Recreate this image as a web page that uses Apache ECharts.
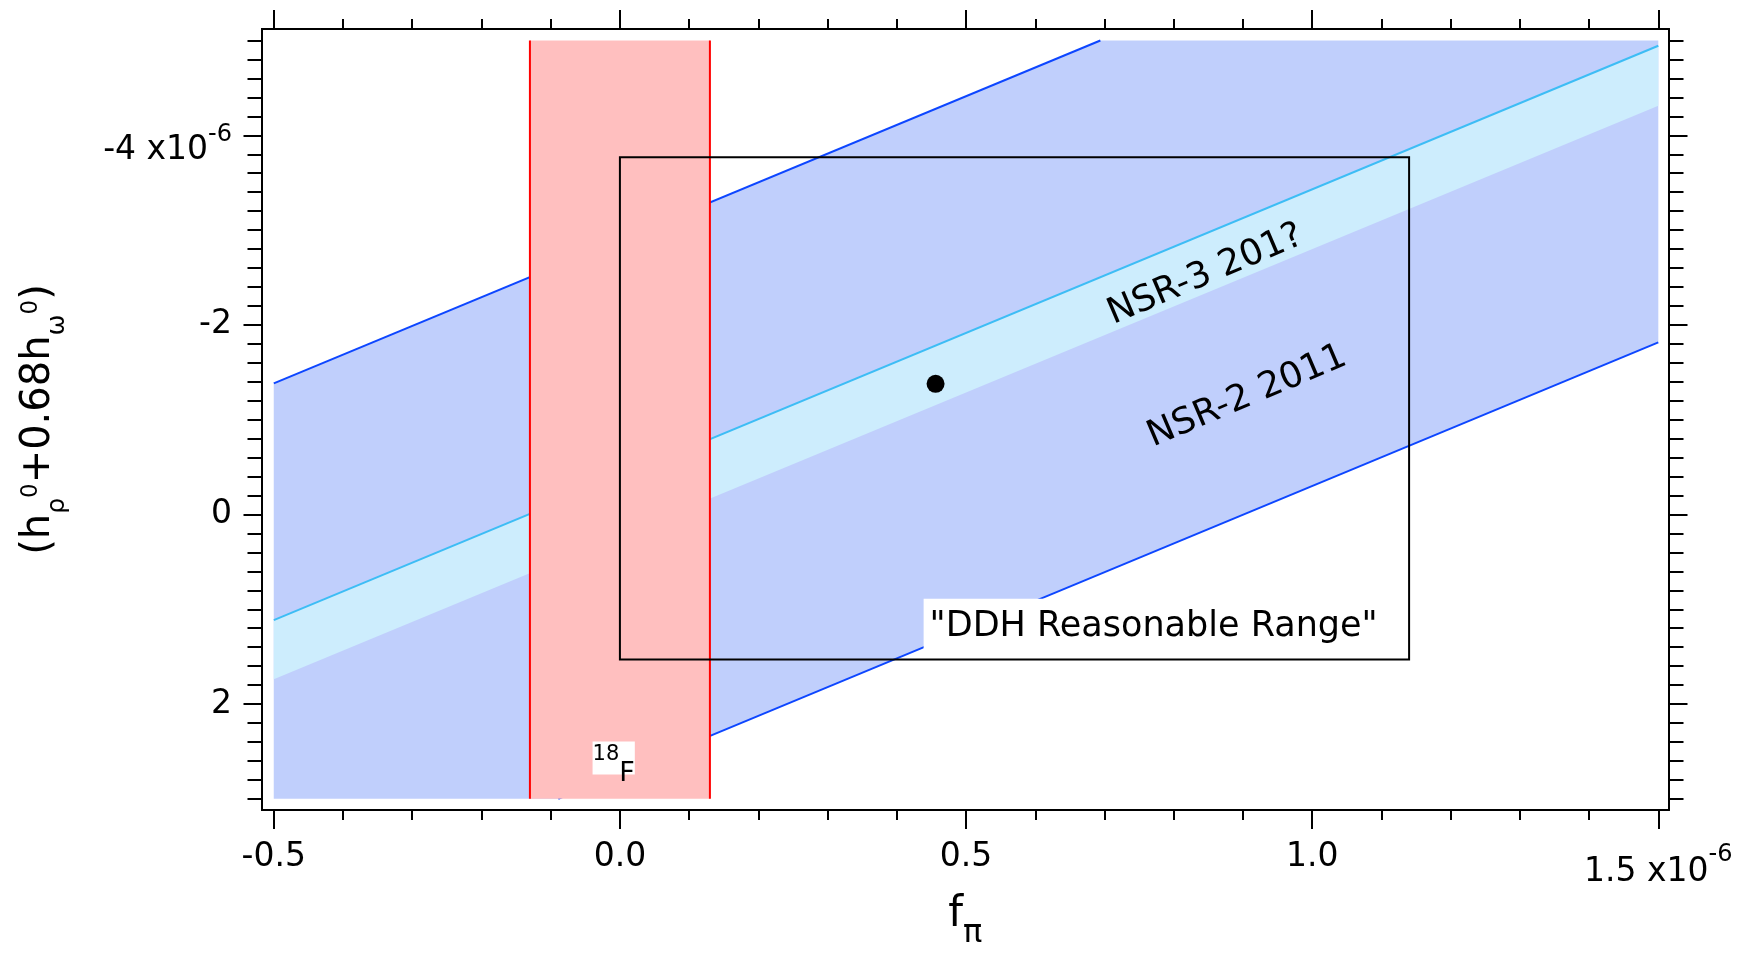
<!DOCTYPE html>
<html>
<head>
<meta charset="utf-8">
<script src="https://cdn.jsdelivr.net/npm/echarts@6/dist/echarts.min.js"></script>
<style>
html,body{margin:0;padding:0;background:#ffffff;}
#chart{width:1746px;height:955px;}
</style>
</head>
<body>
<div id="chart"></div>
<script>
// ---------------- data ----------------
const xRange = [-0.5, 1.5];
const yRange = [-5, 3];
const xMajorTicks = [-0.5, 0.0, 0.5, 1.0, 1.5];
const xTickLabels = ['-0.5', '0.0', '0.5', '1.0', '1.5 x10^-6'];
const yMajorTicks = [-4, -2, 0, 2];
const yTickLabels = ['-4 x10^-6', '-2', '0', '2'];
const xMinorStep = 0.1;
const yMinorStep = 0.2;

// NSR-2 2011 band edges
const nsr2Upper = [[-0.5, -1.383], [0.694, -5.0]];
const nsr2Lower = [[-0.089, 3.0], [1.5, -1.816]];
// NSR-3 201? band edges
const nsr3Upper = [[-0.5, 1.114], [1.5, -4.945]];
const nsr3Lower = [[-0.5, 1.739], [1.5, -4.313]];
// 18F band (f_pi range)
const f18Range = [-0.13, 0.13];
// DDH reasonable range box
const ddhX = [0.0, 1.14];
const ddhY = [-3.77, 1.53];
// central point
const centralPoint = [[0.456, -1.379]];

// ---------------- layout / styles ----------------
const FONT = 'DejaVu Sans';
const W = 1746, H = 955;
const grid = {left: 259.5, right: 77.5, top: 29, bottom: 134};
const gapPx = {left: 11.8, right: 10.2, top: 11.7, bottom: 11.4};
const gridW = W - grid.left - grid.right;
const gridH = H - grid.top - grid.bottom;
const xPerPx = (xRange[1] - xRange[0]) / (gridW - gapPx.left - gapPx.right);
const yPerPx = (yRange[1] - yRange[0]) / (gridH - gapPx.top - gapPx.bottom);
const xMin = xRange[0] - gapPx.left * xPerPx;
const xMax = xRange[1] + gapPx.right * xPerPx;
const yMin = yRange[0] - gapPx.top * yPerPx;
const yMax = yRange[1] + gapPx.bottom * yPerPx;

function stepTicks(range, step) {
  const out = [];
  const n = Math.round((range[1] - range[0]) / step);
  for (let i = 0; i <= n; i++) out.push(+(range[0] + i * step).toFixed(6));
  return out;
}
const xMinorTicks = stepTicks(xRange, xMinorStep);
const yMinorTicks = stepTicks(yRange, yMinorStep);

function richLabel(str) {
  const parts = str.split('^');
  if (parts.length === 1) return '{n|' + str + '}';
  return '{m|' + parts[0] + '}{s|' + parts[1] + '}';
}
function findLabel(ticks, labels, v) {
  for (let i = 0; i < ticks.length; i++) if (Math.abs(ticks[i] - v) < 1e-6) return labels[i];
  return '';
}

const lineStyleFrame = {color: '#000', width: 2};
const TXT = {fontFamily: FONT, color: '#000'};

function makeX(position, ticks, len, withLabels, extra) {
  return Object.assign({
    type: 'value', position: position, offset: 0, min: xMin, max: xMax,
    axisLine: {show: true, onZero: false, lineStyle: lineStyleFrame},
    splitLine: {show: false},
    axisTick: {show: true, customValues: ticks, length: len, lineStyle: {color: '#000', width: 2}},
    axisLabel: withLabels ? {
      show: true, customValues: xMajorTicks, margin: 31, color: '#000', fontFamily: FONT,
      formatter: v => richLabel(findLabel(xMajorTicks, xTickLabels, v)),
      rich: {
        n: Object.assign({fontSize: 33, lineHeight: 40, verticalAlign: 'top'}, TXT),
        m: Object.assign({fontSize: 33, lineHeight: 40, padding: [15, 0, 0, 0], verticalAlign: 'top'}, TXT),
        s: Object.assign({fontSize: 24, lineHeight: 24, padding: [2, 0, 0, 0], verticalAlign: 'top'}, TXT)
      }
    } : {show: false}
  }, extra || {});
}
function makeY(position, ticks, len, withLabels, extra) {
  return Object.assign({
    type: 'value', position: position, offset: 0, min: yMin, max: yMax, inverse: true,
    axisLine: {show: true, onZero: false, lineStyle: lineStyleFrame},
    splitLine: {show: false},
    axisTick: {show: true, customValues: ticks, length: len, lineStyle: {color: '#000', width: 2}},
    axisLabel: withLabels ? {
      show: true, customValues: yMajorTicks, margin: 30, color: '#000', fontFamily: FONT,
      formatter: v => richLabel(findLabel(yMajorTicks, yTickLabels, v)),
      rich: {
        n: Object.assign({fontSize: 33, lineHeight: 40}, TXT),
        m: Object.assign({fontSize: 33, lineHeight: 40, padding: [19, 0, 0, 0], verticalAlign: 'top'}, TXT),
        s: Object.assign({fontSize: 24, lineHeight: 24, padding: [7, 0, 0, 0], verticalAlign: 'top'}, TXT)
      }
    } : {show: false}
  }, extra || {});
}

function polygonSeries(name, pts, color, z) {
  return {
    type: 'custom', name: name, silent: true, xAxisIndex: 0, yAxisIndex: 0, z: z,
    data: [pts[0]],
    renderItem: function (params, api) {
      return {type: 'polygon', shape: {points: pts.map(p => api.coord(p))}, style: {fill: color}};
    }
  };
}
function lineSeries(name, pts, color, width, z) {
  return {
    type: 'line', name: name, data: pts, showSymbol: false, symbol: 'none', silent: true,
    xAxisIndex: 0, yAxisIndex: 0, z: z,
    lineStyle: {color: color, width: width}
  };
}
function textSeries(name, pos, text, labelOpts) {
  return {
    type: 'scatter', name: name, data: [pos], symbolSize: 1, silent: true, z: 20,
    itemStyle: {color: 'rgba(0,0,0,0)', opacity: 1},
    label: Object.assign({show: true, position: 'inside', formatter: text, opacity: 1}, TXT, labelOpts)
  };
}

// polygons built from the edge arrays and axis ranges
const nsr2Band = [nsr2Upper[0], nsr2Upper[1], [xRange[1], yRange[0]], nsr2Lower[1], nsr2Lower[0], [xRange[0], yRange[1]]];
const nsr3Band = [nsr3Upper[0], nsr3Upper[1], nsr3Lower[1], nsr3Lower[0]];
const f18Band = [[f18Range[0], yRange[0]], [f18Range[1], yRange[0]], [f18Range[1], yRange[1]], [f18Range[0], yRange[1]]];

const option = {
  backgroundColor: '#ffffff',
  animation: false,
  grid: {left: grid.left, right: grid.right, top: grid.top, bottom: grid.bottom, containLabel: false},
  xAxis: [
    makeX('bottom', xMajorTicks, 19, true, {
      name: '{t|f}{sub|π}', nameLocation: 'middle', nameGap: 79.5,
      nameTextStyle: {rich: {
        t: Object.assign({fontSize: 42, lineHeight: 50, verticalAlign: 'top'}, TXT),
        sub: Object.assign({fontSize: 32, lineHeight: 32, padding: [24, 0, 0, 0], verticalAlign: 'top'}, TXT)
      }}
    }),
    makeX('bottom', xMinorTicks, 10, false),
    makeX('top', xMajorTicks, 19, false),
    makeX('top', xMinorTicks, 10, false)
  ],
  yAxis: [
    makeY('left', yMajorTicks, 18.5, true, {
      name: '{t|(h}{sub|ρ}{sup|0}{t|+0.68h}{sub|ω}{sup|0}{t|)}',
      nameLocation: 'middle', nameRotate: 90, nameGap: 192,
      nameTextStyle: {rich: {
        t: Object.assign({fontSize: 40, lineHeight: 62, verticalAlign: 'middle'}, TXT),
        sub: Object.assign({fontSize: 25, lineHeight: 25, verticalAlign: 'bottom'}, TXT),
        sup: Object.assign({fontSize: 23, lineHeight: 23, padding: [12, 0, 0, 0], verticalAlign: 'top'}, TXT)
      }}
    }),
    makeY('left', yMinorTicks, 14.5, false),
    makeY('right', yMajorTicks, 19, false),
    makeY('right', yMinorTicks, 15, false)
  ],
  series: [
    polygonSeries('NSR-2 2011 band', nsr2Band, '#c0cffc', 1),
    polygonSeries('NSR-3 band', nsr3Band, '#cdedfd', 2),
    lineSeries('NSR-2 upper', nsr2Upper, '#0d46ff', 2, 3),
    lineSeries('NSR-2 lower', nsr2Lower, '#0d46ff', 2, 3),
    lineSeries('NSR-3 upper', nsr3Upper, '#3dbdf5', 2, 3),
    polygonSeries('18F band', f18Band, '#ffbfbf', 5),
    lineSeries('18F left', [[f18Range[0], yRange[0]], [f18Range[0], yRange[1]]], '#ff0000', 2, 6),
    lineSeries('18F right', [[f18Range[1], yRange[0]], [f18Range[1], yRange[1]]], '#ff0000', 2, 6),
    textSeries('DDH label', [0.771, 1.19], '"DDH Reasonable Range"', {
      fontSize: 35, lineHeight: 42, backgroundColor: '#ffffff', padding: [8, 6, 7, 6]
    }),
    {
      type: 'custom', name: 'DDH box', silent: true, xAxisIndex: 0, yAxisIndex: 0, z: 25,
      data: [[ddhX[0], ddhY[0]]],
      renderItem: function (params, api) {
        const p0 = api.coord([ddhX[0], ddhY[0]]);
        const p1 = api.coord([ddhX[1], ddhY[1]]);
        return {type: 'rect', shape: {x: Math.min(p0[0], p1[0]), y: Math.min(p0[1], p1[1]),
          width: Math.abs(p1[0] - p0[0]), height: Math.abs(p1[1] - p0[1])},
          style: {fill: 'none', stroke: '#000', lineWidth: 2}};
      }
    },
    {
      type: 'scatter', name: 'central value', data: centralPoint, symbol: 'circle', symbolSize: 18, z: 26,
      itemStyle: {color: '#000', opacity: 1}, silent: true
    },
    textSeries('NSR-3 label', [0.846, -2.528], 'NSR-3 201?', {fontSize: 36, rotate: 23}),
    textSeries('NSR-2 label', [0.906, -1.243], 'NSR-2 2011', {fontSize: 36, rotate: 23}),
    textSeries('18F label', [-0.009, 2.568], '{sup|18}{b|F}', {
      backgroundColor: '#ffffff', padding: [2, 0, 4, 0],
      rich: {
        sup: Object.assign({fontSize: 21, lineHeight: 21, verticalAlign: 'top', padding: [1, 0, 0, 0]}, TXT),
        b: Object.assign({fontSize: 27, lineHeight: 27, verticalAlign: 'top', padding: [17, 0, 0, 0]}, TXT)
      }
    })
  ]
};

const chart = echarts.init(document.getElementById('chart'), null, {renderer: 'canvas'});
chart.setOption(option);
</script>
</body>
</html>
